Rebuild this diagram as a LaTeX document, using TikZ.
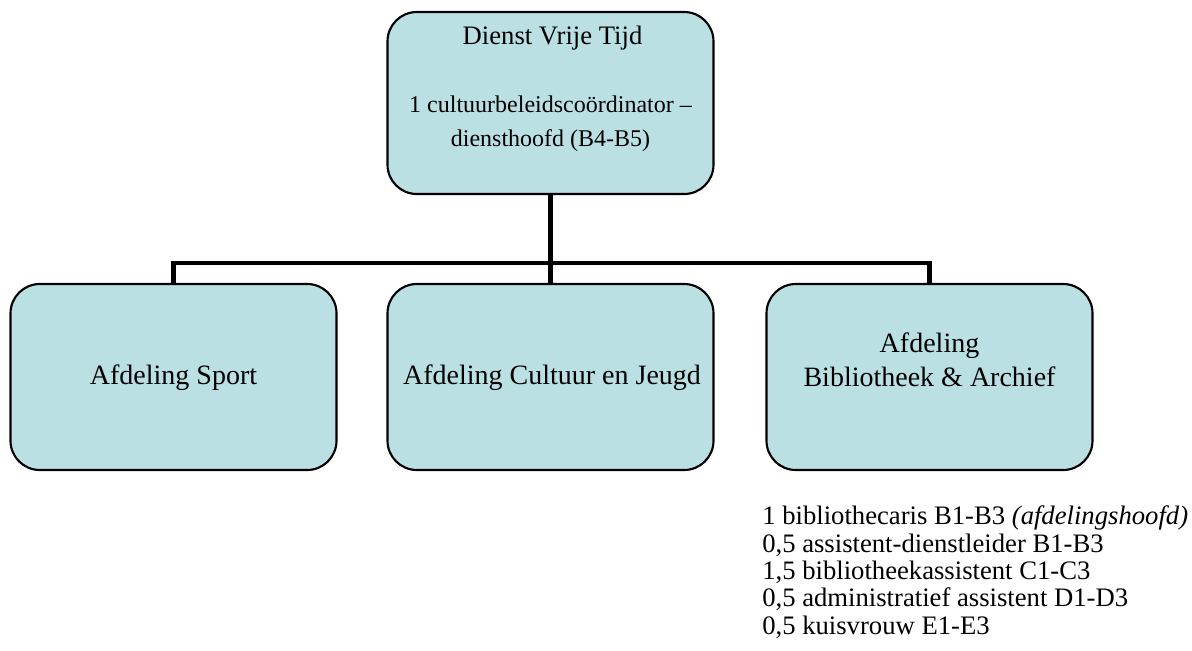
\documentclass[tikz,border=0pt]{standalone}
\usepackage{fontspec}
\setmainfont{Liberation Serif}
\definecolor{boxblue}{RGB}{187,224,227}
\begin{document}
\begin{tikzpicture}%
	[x=0.75pt, y=-0.75pt,
	box/.style={draw=black, line width=1.6pt, fill=boxblue, rounded corners=22pt,
		minimum width=244.5pt, minimum height=139.5pt, inner sep=0pt},
	toptext/.style={font=\fontsize{18}{22}\selectfont, inner sep=0pt, anchor=base},
	boxtext/.style={font=\fontsize{21}{25}\selectfont, inner sep=0pt, anchor=base},
	link/.style={draw=black, line width=3.6pt, line join=miter}]
%
\useasboundingbox (0,0) rectangle (1192,650);
%
%% the boxes
\node[box, minimum height=136.5pt] (vrijetijd) at (550.5,103) {};
\node[box] (sport) at (173.5,377) {};
\node[box] (cultuur) at (550.5,377) {};
\node[box] (bib) at (929.5,377) {};
%
%% the connectors
\coordinate (bus) at (550.5,263);
\draw[link] (vrijetijd.south) -- (cultuur.north);
\draw[link] (sport.north) |- (bus) -| (bib.north);
%
%% the texts
\node[toptext, font=\fontsize{20}{24}\selectfont] (dvt) at (552.5,44) {Dienst Vrije Tijd};
\node[toptext] (coord) at (550.5,112) {1 cultuurbeleidscoördinator –};
\node[toptext] (hoofd) at (550.5,146) {diensthoofd (B4-B5)};
\node[boxtext] (sporttext) at (173.5,384) {Afdeling Sport};
\node[boxtext] (cultuurtext) at (552,384) {Afdeling Cultuur en Jeugd};
\node[boxtext] (bibtext1) at (929.5,352) {Afdeling};
\node[boxtext] (bibtext2) at (929.5,386) {Bibliotheek \& Archief};
%
%% staff of the library (base = last line)
\node[font=\fontsize{20}{20.5}\selectfont, align=left, inner sep=0pt, anchor=base west]
	(staff) at (762,634) {1 bibliothecaris B1-B3 \textit{(afdelingshoofd)}\\
	0,5 assistent-dienstleider B1-B3\\
	1,5 bibliotheekassistent C1-C3\\
	0,5 administratief assistent D1-D3\\
	0,5 kuisvrouw E1-E3};
%
\end{tikzpicture}
\end{document}
